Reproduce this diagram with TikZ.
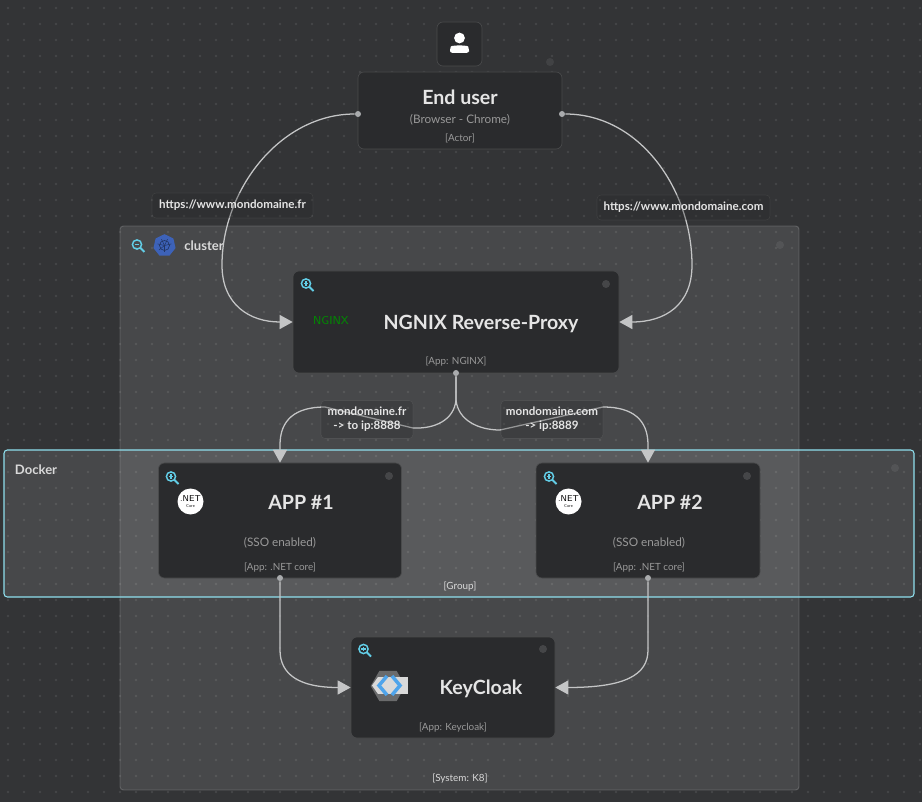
\documentclass[tikz,border=0pt]{standalone}
\usepackage{fontspec}
\setmainfont{Lato}
\usetikzlibrary{arrows.meta,shapes.geometric}
\definecolor{bgdark}{HTML}{333436}
\definecolor{boxdark}{HTML}{2A2B2D}
\definecolor{wire}{HTML}{C4C5C6}
\definecolor{tipgrey}{HTML}{A9ABAD}
\definecolor{cyanline}{HTML}{8FE0EE}
\definecolor{zoomcyan}{HTML}{62CDE6}
\definecolor{helmblue}{HTML}{3D62B8}
\tikzset{
  box/.style={fill=boxdark,draw=boxdark!85!white,line width=0.5pt,rounded corners=4.5pt,inner sep=0pt},
  grp/.style={fill=white,fill opacity=0.1,rounded corners=2.5pt,inner sep=0pt,line width=0.7pt},
  title/.style={text=white!90!black,inner sep=0pt,font=\fontsize{#1}{#1}\selectfont\bfseries},
  title/.default=14.7pt,
  subtext/.style={text=white!60!black,inner sep=0pt,font=\fontsize{8.8pt}{8.8pt}\selectfont},
  tag/.style={text=white!60!black,inner sep=0pt,font=\fontsize{7.4pt}{7.4pt}\selectfont},
  grptext/.style={text=white!85!black,inner sep=0pt,font=\fontsize{9.8pt}{9.8pt}\selectfont\bfseries},
  lbl/.style={fill=bgdark!80!black,fill opacity=0.3,text opacity=1,draw=white,draw opacity=0.07,rounded corners=3pt,inner sep=0pt,text=white!90!black,align=center,font=\fontsize{8.7pt}{10.5pt}\selectfont\bfseries},
  pindot/.style={circle,fill=tipgrey,minimum size=4.5pt,inner sep=0pt},
  cornerdot/.style={circle,fill=white,fill opacity=#1,minimum size=6pt,inner sep=0pt},
  cornerdot/.default=0.13,
  wirestyle/.style={draw=wire,line width=0.95pt},
  loupe/.pic={
    \draw[zoomcyan,line width=1.1pt] (0,0) circle (4.6);
    \draw[zoomcyan,line width=1.5pt] (3.4,3.4) -- (7.5,7.5);
    \draw[zoomcyan,line width=0.8pt] (-2.3,0) -- (2.3,0);
    \draw[zoomcyan,line width=0.8pt] (0,-2.3) -- (0,2.3);
  },
  loupeminus/.pic={
    \draw[zoomcyan,line width=1.1pt] (0,0) circle (4.6);
    \draw[zoomcyan,line width=1.5pt] (3.4,3.4) -- (7.5,7.5);
    \draw[zoomcyan,line width=0.8pt] (-2.3,0) -- (2.3,0);
  },
}
\begin{document}
\begin{tikzpicture}[x=0.75pt,y=-0.75pt,>={Triangle[length=9.75pt,width=10.5pt]}]
\useasboundingbox (0,0) rectangle (922,802);
\fill[bgdark] (0,0) rectangle (922,802);
% dotted grid
\foreach \gx in {8,24,...,920}
  \foreach \gy in {8,24,...,800}
    \fill[white,opacity=0.09] (\gx,\gy) circle (1.3);
\coordinate (C1) at (459.5,508);
\coordinate (C2) at (459,523.5);
\coordinate (U0) at (459.5,44);
\coordinate (U1) at (460,110.5);
\coordinate (N1) at (456,322);
\coordinate (A1) at (280,520.5);
\coordinate (A2) at (648,520.5);
\coordinate (K1) at (453,687.5);
% groups
\node[grp,draw=white,draw opacity=0.18,minimum width=509.25pt,minimum height=423pt] (cluster) at (C1) {};
\node[grp,draw=cyanline,draw opacity=1,line width=0.8pt,minimum width=682.5pt,minimum height=110.25pt] (docker) at (C2) {};
\node[grptext] (clustername) at (204,246) {cluster};
\node[grptext] (dockername) at (36,470) {Docker};
\node[tag,text=white!85!black] (grouptag) at (460,586.5) {[Group]};
\node[tag,text=white!85!black] (systemtag) at (460,778.5) {[System: K8]};
% boxes
\node[box,minimum width=33.75pt,minimum height=33pt] (iconbox) at (U0) {};
\node[box,minimum width=153pt,minimum height=57.75pt] (enduser) at (U1) {};
\node[box,minimum width=244.5pt,minimum height=76.5pt] (nginx) at (N1) {};
\node[box,minimum width=182.25pt,minimum height=86.25pt] (app1) at (A1) {};
\node[box,minimum width=168pt,minimum height=86.25pt] (app2) at (A2) {};
\node[box,minimum width=153pt,minimum height=75.75pt] (keycloak) at (K1) {};
% box texts
\node[title] (endusertitle) at (460,97) {End user};
\node[subtext] (endusersub) at (460,119.5) {(Browser - Chrome)};
\node[tag] (endusertag) at (460,138) {[Actor]};
\node[title] (nginxtitle) at (481,324) {NGNIX Reverse-Proxy};
\node[tag] (nginxtag) at (456,362) {[App: NGINX]};
\node[title] (app1title) at (301,502) {APP \#1};
\node[subtext] (app1sub) at (280,542.5) {(SSO enabled)};
\node[tag] (app1tag) at (280,567.5) {[App: .NET core]};
\node[title] (app2title) at (670,502) {APP \#2};
\node[subtext] (app2sub) at (649,542.5) {(SSO enabled)};
\node[tag] (app2tag) at (649,567.5) {[App: .NET core]};
\node[title] (keycloaktitle) at (481,689) {KeyCloak};
\node[tag] (keycloaktag) at (453,727.5) {[App: Keycloak]};
% pins and corner marks
\node[pindot] (userleft) at (358,114) {};
\node[pindot] (userright) at (562,114) {};
\node[pindot] (nginxpin) at (456,373) {};
\node[pindot] (app1pin) at (280,578) {};
\node[pindot] (app2pin) at (648,578) {};
\node[cornerdot] (m1) at (606,284) {};
\node[cornerdot] (m2) at (389,476) {};
\node[cornerdot] (m3) at (747,476) {};
\node[cornerdot] (m4) at (543,649) {};
\node[cornerdot=0.07] (m5) at (550,62) {};
\node[cornerdot=0.07] (m6) at (780,245) {};
\node[cornerdot=0.07] (m7) at (895,468) {};
% connectors
\coordinate (L1) at (222,265);
\coordinate (R1) at (692,265);
\coordinate (F0) at (456,400);
\draw[wirestyle,->] (userleft) .. controls (280,114) and (222,190) .. (L1) .. controls (222,305) and (250,322) .. (nginx.west);
\draw[wirestyle,->] (userright) .. controls (640,114) and (692,190) .. (R1) .. controls (692,305) and (665,322) .. (nginx.east);
\draw[wirestyle,->] (nginxpin) -- (F0) .. controls (454,420) and (435,429) .. (413,428) -- (325,407) .. controls (295,407) and (280,420) .. (280,445) -- (app1.north);
\draw[wirestyle,->] (nginxpin) -- (F0) .. controls (458,420) and (478,430) .. (500,430) -- (603,407) .. controls (633,407) and (648,420) .. (648,445) -- (app2.north);
\draw[wirestyle,->] (app1pin) -- (280,650) .. controls (280,675) and (300,687.5) .. (keycloak.west);
\draw[wirestyle,->] (app2pin) -- (648,650) .. controls (648,675) and (625,687.5) .. (keycloak.east);
% connector labels
\node[lbl,minimum width=120.75pt,minimum height=18.75pt] (labelfr) at (232.5,205.5) {\raisebox{-1.5pt}{https://www.mondomaine.fr}};
\node[lbl,minimum width=129.75pt,minimum height=18.75pt] (labelcom) at (683.5,207.5) {\raisebox{-1.5pt}{https://www.mondomaine.com}};
\node[lbl,minimum width=69pt,minimum height=28.5pt] (labelapp1) at (367,419.5) {mondomaine.fr\\-> to ip:8888};
\node[lbl,minimum width=76.5pt,minimum height=28.5pt] (labelapp2) at (552,419.5) {mondomaine.com\\-> ip:8889};
% icons
\pic at (306,283.5) {loupe};
\pic at (171,476.5) {loupe};
\pic at (549,476.5) {loupe};
\pic at (363.5,649) {loupe};
\pic at (137,244.5) {loupeminus};
\node[regular polygon,regular polygon sides=7,fill=helmblue,minimum size=17pt,inner sep=0pt] (helm) at (164.5,245.5) {};
\draw[helmblue!55!black,line width=0.5pt] (helm.center) circle (5);
\foreach \a in {0,51.4,...,308}
  \draw[helmblue!55!black,line width=0.4pt] (helm.center) -- ++(\a+90:7);
\fill[white] (459.5,38) circle (5.4);
\fill[white,rounded corners=2pt] (450,53) -- (450,49) .. controls (451,46) and (455,45.5) .. (459.5,45.5) .. controls (464,45.5) and (468,46) .. (469,49) -- (469,53) -- cycle;
\node[text=green!55!black,inner sep=0pt,font=\fontsize{8.6pt}{8.6pt}\selectfont\sffamily] (nginxlogo) at (331,321) {NGINX};
\node[circle,fill=white,minimum size=19.5pt,inner sep=0pt] (net1) at (190.5,501.5) {};
\node[text=black,inner sep=0pt,align=center,font=\fontsize{6.4pt}{5.5pt}\selectfont\sffamily] (net1text) at (190.5,501.5) {.NET\\[-0.5pt]{\fontsize{3.2pt}{3.2pt}\selectfont Core}};
\node[circle,fill=white,minimum size=19.5pt,inner sep=0pt] (net2) at (568.5,501.5) {};
\node[text=black,inner sep=0pt,align=center,font=\fontsize{6.4pt}{5.5pt}\selectfont\sffamily] (net2text) at (568.5,501.5) {.NET\\[-0.5pt]{\fontsize{3.2pt}{3.2pt}\selectfont Core}};
\node[regular polygon,regular polygon sides=6,fill=white!30!boxdark,minimum size=26pt,inner sep=0pt] (kchex) at (388,686) {};
\fill[white!85!black] (378,677) rectangle (408,694);
\fill[white!85!black] (372,685.5) -- (378,677) -- (378,694) -- cycle;
\draw[zoomcyan!80!blue,line width=2.6pt] (387,676) -- (379,685.5) -- (387,695);
\draw[zoomcyan!80!blue,line width=2.6pt] (392,676) -- (400,685.5) -- (392,695);
\end{tikzpicture}
\end{document}
